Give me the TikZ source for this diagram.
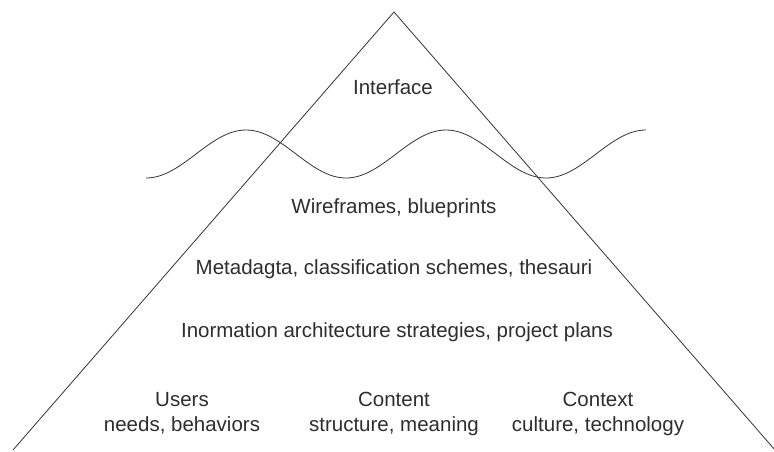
\documentclass[tikz,border=0pt]{standalone}
\usepackage{fontspec}
\setmainfont{Liberation Sans}
\usepackage{tikz}
\usetikzlibrary{positioning}
\definecolor{ink}{HTML}{2E2E2E}
\tikzset{layer/.style={align=center,inner sep=0pt,anchor=base,text=ink,font=\fontsize{20.5}{25}\selectfont}}
\tikzset{edgeline/.style={draw=black!80,line width=0.8pt}}

\begin{document}
\begin{tikzpicture}[x=1pt,y=-1pt]
\useasboundingbox (0,0) rectangle (774,452);
% \draw[help lines] (0,0) grid (774,452);
\coordinate (top) at (394,12);
\coordinate (bl) at (13,450);
\coordinate (br) at (775,450);
%
\path[edgeline] (bl) -- (top) -- (br);
\path[edgeline] (146,178) cos (196,154) sin (246,130) cos (296,154) sin (346,178)
  cos (396,154) sin (446,130) cos (496,154) sin (546,178) cos (596,154) sin (646,130);
%
\node (iface) [layer] at (393,95) {Interface};
\node (wire) [layer] at (394,213) {Wireframes, blueprints};
\node (meta) [layer] at (394,274) {Metadagta, classification schemes, thesauri};
\node (strat) [layer] at (397,337) {Inormation architecture strategies, project plans};
\node (users) [layer] at (182,431) {Users\\needs, behaviors};
\node (content) [layer] at (394,431) {Content\\structure, meaning};
\node (context) [layer] at (598,431) {Context\\culture, technology};
%
\end{tikzpicture}
\end{document}
